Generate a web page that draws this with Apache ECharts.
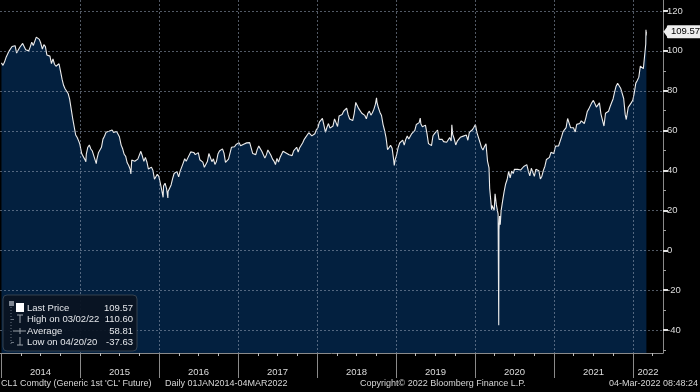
<!DOCTYPE html>
<html><head><meta charset="utf-8">
<script src="https://cdn.jsdelivr.net/npm/echarts@6/dist/echarts.min.js"></script>
<style>html,body{margin:0;padding:0;background:#000;}#c{width:700px;height:392px;}</style>
</head><body><div id="c"></div>
<script>
// ---- DATA (CL1 Comdty, weekly closes plus notable daily extremes) ----
const d2014 = ['01-03','01-10','01-17','01-24','01-31','02-07','02-14','02-21','02-28','03-07','03-14','03-21','03-28','04-04','04-11','04-17','04-25','05-02','05-09','05-16','05-23','05-30','06-06','06-13','06-20','06-27','07-03','07-11','07-18','07-25','08-01','08-08','08-15','08-22','08-29','09-05','09-12','09-19','09-26','10-03','10-10','10-17','10-24','10-31','11-07','11-14','11-21','11-28','12-05','12-12','12-19','12-26','12-31'];
const p2014 = [93.96,92.72,94.37,96.64,97.49,99.88,100.30,102.20,102.59,102.58,98.89,99.46,101.67,101.14,103.74,104.30,100.60,99.76,99.99,102.02,104.35,102.71,102.66,106.91,107.26,105.74,104.06,100.83,103.13,102.09,97.88,97.65,97.35,93.65,95.96,93.29,92.27,92.41,93.54,89.74,85.82,82.75,81.01,80.54,78.65,75.82,76.51,66.15,65.84,57.81,56.52,54.73,53.27];
const d2015 = ['01-02','01-09','01-16','01-23','01-28','01-30','02-06','02-13','02-20','02-27','03-06','03-13','03-17','03-20','03-27','04-02','04-10','04-17','04-24','05-01','05-08','05-15','05-22','05-29','06-05','06-12','06-19','06-26','07-02','07-10','07-17','07-24','07-31','08-07','08-14','08-21','08-24','08-28','09-04','09-11','09-18','09-25','10-02','10-09','10-16','10-23','10-30','11-06','11-13','11-20','11-27','12-04','12-11','12-18','12-24','12-31'];
const p2015 = [52.69,48.36,48.69,45.59,44.45,48.24,51.69,52.78,50.81,49.76,49.61,44.84,43.46,45.72,48.87,49.14,51.64,55.74,57.15,59.15,59.39,59.69,59.72,60.30,59.13,59.96,59.61,59.63,56.93,52.74,50.89,48.14,47.12,43.87,42.50,40.45,38.24,45.22,46.05,44.63,44.68,45.70,45.54,49.63,47.26,44.60,46.59,44.29,40.74,40.39,41.71,39.97,35.62,34.73,38.10,37.04];
const d2016 = ['01-08','01-15','01-20','01-22','01-29','02-05','02-11','02-12','02-19','02-26','03-04','03-11','03-18','03-24','04-01','04-08','04-15','04-22','04-29','05-06','05-13','05-20','05-27','06-03','06-10','06-17','06-24','07-01','07-08','07-15','07-22','07-29','08-05','08-12','08-19','08-26','09-02','09-09','09-16','09-23','09-30','10-07','10-14','10-21','10-28','11-04','11-11','11-18','11-25','12-02','12-09','12-16','12-23','12-30'];
const p2016 = [33.16,29.42,26.55,32.19,33.62,30.89,26.21,29.44,29.64,32.78,35.92,38.50,39.44,39.46,36.79,39.72,40.36,43.73,45.92,44.66,46.21,47.75,49.33,48.62,49.07,47.98,47.64,48.99,45.41,45.95,44.19,41.60,41.80,44.49,48.52,47.64,44.44,45.88,43.03,44.48,48.24,49.81,50.35,50.85,48.70,44.07,43.41,45.69,46.06,51.68,51.50,51.90,53.02,53.72];
const d2017 = ['01-06','01-13','01-20','01-27','02-03','02-10','02-17','02-24','03-03','03-10','03-17','03-24','03-31','04-07','04-13','04-21','04-28','05-05','05-12','05-19','05-26','06-02','06-09','06-16','06-23','06-30','07-07','07-14','07-21','07-28','08-04','08-11','08-18','08-25','09-01','09-08','09-15','09-22','09-29','10-06','10-13','10-20','10-27','11-03','11-10','11-17','11-24','12-01','12-08','12-15','12-22','12-29'];
const p2017 = [53.99,52.37,53.22,53.17,53.83,53.86,53.40,53.99,53.33,48.49,48.78,47.97,50.60,52.24,53.18,49.62,49.33,46.22,47.84,50.33,49.80,47.66,45.83,44.74,43.01,46.04,44.23,46.54,45.77,49.71,49.58,48.82,48.51,47.87,47.29,47.48,49.89,50.66,51.67,49.29,51.45,51.84,53.90,55.64,56.74,56.55,58.95,58.36,57.36,57.30,58.47,60.42];
const d2018 = ['01-05','01-12','01-19','01-26','02-02','02-09','02-16','02-23','03-02','03-09','03-16','03-23','03-29','04-06','04-13','04-20','04-27','05-04','05-11','05-18','05-25','06-01','06-08','06-15','06-22','06-29','07-06','07-13','07-20','07-27','08-03','08-10','08-17','08-24','08-31','09-07','09-14','09-21','09-28','10-03','10-05','10-12','10-19','10-26','11-02','11-09','11-16','11-23','11-30','12-07','12-14','12-21','12-24','12-28','12-31'];
const p2018 = [61.44,64.30,63.37,66.14,65.45,59.20,61.68,63.55,61.25,62.04,62.34,65.88,64.94,62.06,67.39,68.38,68.10,69.72,70.70,71.28,67.88,65.81,65.74,65.06,68.58,74.15,73.80,71.01,70.46,68.69,68.49,67.63,65.91,68.72,69.80,67.75,68.99,70.78,73.25,76.41,74.34,71.34,69.12,67.59,63.14,60.19,56.46,50.42,50.93,52.61,51.20,45.59,42.53,45.33,45.41];
const d2019 = ['01-04','01-11','01-18','01-25','02-01','02-08','02-15','02-22','03-01','03-08','03-15','03-22','03-29','04-05','04-12','04-18','04-23','04-26','05-03','05-10','05-17','05-24','05-31','06-07','06-14','06-21','06-28','07-05','07-12','07-19','07-26','08-02','08-09','08-16','08-23','08-30','09-06','09-13','09-16','09-20','09-27','10-04','10-11','10-18','10-25','11-01','11-08','11-15','11-22','11-29','12-06','12-13','12-20','12-27','12-31'];
const p2019 = [47.96,51.59,53.80,53.69,55.26,52.72,55.59,57.26,55.80,56.07,58.52,59.04,60.14,63.08,63.89,64.00,66.30,63.30,61.94,61.66,62.76,58.63,53.50,53.99,52.51,57.43,58.47,57.51,60.21,55.63,56.20,55.66,54.50,54.87,54.17,55.10,56.52,54.85,62.90,58.09,55.91,52.81,54.70,53.78,56.66,56.20,57.24,57.72,57.77,55.17,59.20,60.07,60.44,61.72,61.06];
const d2020 = ['01-03','01-10','01-17','01-24','01-31','02-07','02-14','02-21','02-28','03-06','03-09','03-13','03-18','03-20','03-27','03-30','04-03','04-09','04-17','04-20','04-21','04-24','04-27','05-01','05-08','05-15','05-22','05-29','06-05','06-12','06-19','06-26','07-02','07-10','07-17','07-24','07-31','08-07','08-14','08-21','08-28','09-04','09-11','09-18','09-25','10-02','10-09','10-16','10-23','10-30','11-06','11-13','11-20','11-27','12-04','12-11','12-18','12-24','12-31'];
const p2020 = [63.05,59.04,58.54,54.19,51.56,50.32,52.05,53.38,44.76,41.28,31.13,31.73,20.37,22.43,21.51,20.09,28.34,22.76,18.27,-37.63,10.01,17.18,12.78,19.78,24.74,29.43,33.25,35.49,39.55,36.26,39.75,38.49,40.65,40.55,40.59,41.29,40.27,41.22,42.01,42.34,42.97,39.77,37.33,41.11,40.25,37.05,40.60,40.88,39.85,35.79,37.14,40.13,42.15,45.53,46.26,46.57,49.10,48.23,48.52];
const d2021 = ['01-08','01-15','01-22','01-29','02-05','02-12','02-19','02-26','03-05','03-12','03-19','03-26','04-01','04-09','04-16','04-23','04-30','05-07','05-14','05-21','05-28','06-04','06-11','06-18','06-25','07-02','07-09','07-16','07-23','07-30','08-06','08-13','08-20','08-27','09-03','09-10','09-17','09-24','10-01','10-08','10-15','10-22','10-26','10-29','11-05','11-12','11-19','11-26','12-01','12-03','12-10','12-17','12-23','12-31'];
const p2021 = [52.24,52.36,52.27,52.20,56.85,59.47,59.24,61.50,66.09,65.61,61.42,60.97,61.45,59.32,63.13,62.14,63.58,64.90,65.37,63.58,66.32,69.62,70.91,71.64,74.05,75.16,74.56,71.81,72.07,73.95,68.28,68.44,62.32,68.74,69.29,69.72,71.97,73.98,75.88,79.35,82.28,83.76,84.65,83.57,81.27,80.79,76.10,68.15,65.57,66.26,71.67,70.86,73.79,75.21];
const d2022 = ['01-07','01-14','01-21','01-28','02-04','02-11','02-18','02-25','03-01','03-02','03-03','03-04'];
const p2022 = [78.90,83.82,85.14,86.82,92.31,93.10,91.07,91.59,103.41,110.60,107.67,109.57];

const yTickValues = [-40,-20,0,20,40,60,80,100,120];
const yMinorValues = [-50,-30,-10,10,30,50,70,90,110];
const yearTicks = [2014,2015,2016,2017,2018,2019,2020,2021,2022];
const yearLabels = ['2014','2015','2016','2017','2018','2019','2020','2021','2022'];
const lastPrice = 109.57;
const legendLabels = ['Last Price','High on 03/02/22','Average','Low on 04/20/20'];
const legendValues = ['109.57','110.60','58.81','-37.63'];
const footerLeft = "CL1 Comdty (Generic 1st 'CL' Future)";
const footerRange = 'Daily 01JAN2014-04MAR2022';
const footerCopy = 'Copyright\u00A9 2022 Bloomberg Finance L.P.';
const footerStamp = '04-Mar-2022 08:48:24';

// ---- build ----
const years = {2014:[d2014,p2014],2015:[d2015,p2015],2016:[d2016,p2016],2017:[d2017,p2017],2018:[d2018,p2018],2019:[d2019,p2019],2020:[d2020,p2020],2021:[d2021,p2021],2022:[d2022,p2022]};
function frac(y, md){
  const [m,d] = md.split('-').map(Number);
  const s = Date.UTC(y,0,1), e = Date.UTC(y+1,0,1);
  return y + (Date.UTC(y,m-1,d) - s)/(e - s);
}
const points = [];
Object.keys(years).forEach(k => {
  const y = +k, [ds, ps] = years[k];
  ds.forEach((md,i) => points.push([frac(y,md), ps[i]]));
});
const X_MIN = 2013.987, X_MAX = 2022.38;
const Y_MIN = -51.5, Y_MAX = 125.5;
const labelPos = yearTicks.map((y,i) => i < yearTicks.length-1 ? y + 0.5 : y + 0.19);
const quarterTicks = [];
yearTicks.forEach(y => [0.25,0.5,0.75].forEach(q => { if (y+q < X_MAX) quarterTicks.push(y+q); }));

const FONT = "'Liberation Sans', Arial, sans-serif";
const chart = echarts.init(document.getElementById('c'), null, {renderer:'canvas'});

const legendY = [308, 319.5, 331, 342.5];
const legendGraphics = [
  {type:'rect', shape:{x:3,y:295,width:134,height:56,r:4}, style:{fill:'rgba(9,20,34,0.95)', stroke:'#34414f', lineWidth:1}},
  {type:'line', shape:{x1:11,y1:301,x2:11,y2:346}, style:{stroke:'#6b7480', lineWidth:1, lineDash:[1,2]}},
  {type:'rect', shape:{x:9,y:301,width:5,height:5}, style:{fill:'#7d8590'}},
  {type:'rect', shape:{x:16,y:303,width:8,height:9}, style:{fill:'#ffffff'}},
  {type:'line', shape:{x1:17,y1:315,x2:23,y2:315}, style:{stroke:'#9aa0a8', lineWidth:1}},
  {type:'line', shape:{x1:20,y1:315,x2:20,y2:323}, style:{stroke:'#9aa0a8', lineWidth:1}},
  {type:'line', shape:{x1:13,y1:331,x2:26,y2:331}, style:{stroke:'#9aa0a8', lineWidth:1}},
  {type:'line', shape:{x1:20,y1:328,x2:20,y2:334}, style:{stroke:'#9aa0a8', lineWidth:1}},
  {type:'line', shape:{x1:20,y1:337,x2:20,y2:345}, style:{stroke:'#9aa0a8', lineWidth:1}},
  {type:'line', shape:{x1:17,y1:345,x2:23,y2:345}, style:{stroke:'#9aa0a8', lineWidth:1}},
  {type:'line', shape:{x1:11,y1:319.5,x2:14,y2:319.5}, style:{stroke:'#6b7480', lineWidth:1}},
  {type:'line', shape:{x1:11,y1:342.5,x2:14,y2:342.5}, style:{stroke:'#6b7480', lineWidth:1}}
];
legendLabels.forEach((t,i) => {
  legendGraphics.push({type:'text', x:27, y:legendY[i], style:{text:t, fill:'#e4e6ea', font:'9.5px '+FONT, textVerticalAlign:'middle'}});
  legendGraphics.push({type:'text', x:133, y:legendY[i], style:{text:legendValues[i], fill:'#e4e6ea', font:'9.5px '+FONT, textAlign:'right', textVerticalAlign:'middle'}});
});
legendGraphics.forEach(g => { g.z = 100; });
const footerGraphics = [
  {type:'text', x:1, y:384, z:100, style:{text:footerLeft, fill:'#d6d6d6', font:'9px '+FONT, textVerticalAlign:'middle'}},
  {type:'text', x:165, y:384, z:100, style:{text:footerRange, fill:'#d6d6d6', font:'9px '+FONT, textVerticalAlign:'middle'}},
  {type:'text', x:360, y:384, z:100, style:{text:footerCopy, fill:'#d6d6d6', font:'9px '+FONT, textVerticalAlign:'middle'}},
  {type:'text', x:698, y:384, z:100, style:{text:footerStamp, fill:'#d6d6d6', font:'9px '+FONT, textAlign:'right', textVerticalAlign:'middle'}}
];

chart.setOption({
  backgroundColor:'#000',
  animation:false,
  grid: {left:0, right:37, top:0, bottom:39, containLabel:false},
  xAxis: [{
    type:'value', min:X_MIN, max:X_MAX, position:'bottom', z:3,
    axisLine:{show:true, onZero:false, lineStyle:{color:'#8a8a8a', width:1}},
    axisTick:{show:true, customValues:yearTicks, length:25, lineStyle:{color:'#8a8a8a', width:1}},
    axisLabel:{show:true, customValues:labelPos, margin:14, color:'#dcdcdc', fontSize:9.5, fontFamily:FONT,
      formatter: v => yearLabels[Math.min(yearLabels.length-1, Math.floor(v) - yearTicks[0])]},
    splitLine:{show:false}
  },{
    type:'value', min:X_MIN, max:X_MAX, position:'bottom', z:3,
    axisLine:{show:false, onZero:false},
    axisTick:{show:true, customValues:quarterTicks, length:3, lineStyle:{color:'#bdbdbd', width:1}},
    axisLabel:{show:false},
    splitLine:{show:false}
  }],
  yAxis: [{
    type:'value', min:Y_MIN, max:Y_MAX, position:'right', z:3,
    axisLine:{show:true, onZero:false, lineStyle:{color:'#8a8a8a', width:1}},
    axisTick:{show:true, customValues:yTickValues, length:5, lineStyle:{color:'#e0e0e0', width:2}},
    axisLabel:{show:true, customValues:yTickValues, margin:4, color:'#dcdcdc', fontSize:9.5, fontFamily:FONT},
    splitLine:{show:false}
  },{
    type:'value', min:Y_MIN, max:Y_MAX, position:'right', z:3,
    axisLine:{show:false, onZero:false},
    axisTick:{show:true, customValues:yMinorValues, length:3, lineStyle:{color:'#a0a0a0', width:1}},
    axisLabel:{show:false},
    splitLine:{show:false}
  }],
  series: [{
    name:'price', type:'line', xAxisIndex:0, yAxisIndex:0, data:points, z:2,
    showSymbol:false, symbol:'none', smooth:false,
    lineStyle:{color:'#ececec', width:1.1},
    areaStyle:{color:'#03203f', origin:'start', opacity:1},
    markLine:{
      silent:true, symbol:['none','none'], animation:false,
      lineStyle:{color:'rgba(0,0,0,0)', width:0},
      label:{show:true, position:'end', distance:4, formatter:'109.57', color:'#000', backgroundColor:'#eeeeee',
        padding:[2,3,1,4], borderRadius:1, fontSize:9.5, fontFamily:FONT},
      data:[{yAxis:lastPrice}]
    }
  }],
  graphic: legendGraphics.concat(footerGraphics)
});

// dotted gridlines drawn above the filled area, positioned through the chart's own scales
const gridStyle = {stroke:'rgba(150,162,182,0.55)', lineWidth:1, lineDash:[2,2]};
const xL = chart.convertToPixel({xAxisIndex:0}, X_MIN), xR = chart.convertToPixel({xAxisIndex:0}, X_MAX);
const yT = chart.convertToPixel({yAxisIndex:0}, Y_MAX), yB = chart.convertToPixel({yAxisIndex:0}, Y_MIN);
const gridGraphics = [];
yTickValues.forEach(v => {
  const py = Math.round(chart.convertToPixel({yAxisIndex:0}, v)) + 0.5;
  gridGraphics.push({type:'line', z:50, silent:true, shape:{x1:xL, y1:py, x2:xR, y2:py}, style:gridStyle});
});
yearTicks.slice(1).forEach(v => {
  const px = Math.round(chart.convertToPixel({xAxisIndex:0}, v)) + 0.5;
  gridGraphics.push({type:'line', z:50, silent:true, shape:{x1:px, y1:yT, x2:px, y2:yB}, style:gridStyle});
});
// pointer of the last-price tag
const tagY = chart.convertToPixel({yAxisIndex:0}, lastPrice);
gridGraphics.push({type:'polygon', z:100, silent:true,
  shape:{points:[[xR + 0.5, tagY], [xR + 4.5, tagY - 5.5], [xR + 4.5, tagY + 5.5]]}, style:{fill:'#eeeeee'}});
chart.setOption({graphic: legendGraphics.concat(footerGraphics).concat(gridGraphics)});
</script>
</body></html>
